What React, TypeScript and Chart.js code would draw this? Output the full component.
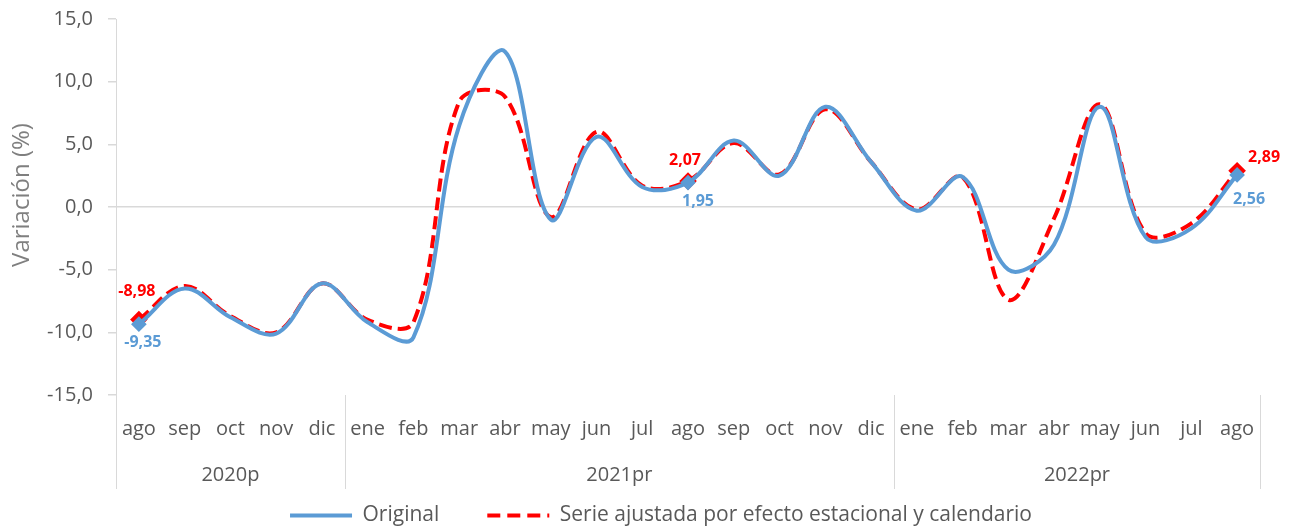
import React, { useEffect, useRef } from 'react';
import { Chart, registerables } from 'chart.js';

Chart.register(...registerables);

const months = [
  'ago', 'sep', 'oct', 'nov', 'dic',
  'ene', 'feb', 'mar', 'abr', 'may', 'jun', 'jul', 'ago', 'sep', 'oct', 'nov', 'dic',
  'ene', 'feb', 'mar', 'abr', 'may', 'jun', 'jul', 'ago',
];
const yearGroups = ['2020p', '2021pr', '2022pr'];
const yearGroupSizes = [5, 12, 8];

const original = [
  -9.35, -6.5, -8.8, -10.1, -6.1,
  -9.2, -10.4, 6.5, 12.4, -1.0, 5.6, 1.6, 1.95, 5.3, 2.5, 8.0, 3.6,
  -0.3, 2.4, -5.0, -3.0, 8.0, -2.4, -1.7, 2.56,
];
const adjusted = [
  -8.98, -6.3, -8.7, -10.0, -6.1,
  -9.0, -9.2, 8.4, 8.8, -0.8, 6.0, 1.7, 2.07, 5.1, 2.6, 7.8, 3.6,
  -0.2, 2.4, -7.4, -0.9, 8.2, -2.1, -1.3, 2.89,
];
const labeledIndices = [0, 12, 24];
const yMin = -15;
const yMax = 15;
const yStep = 5;

const seriesNames = ['Original', 'Serie ajustada por efecto estacional y calendario'];
const yTitle = 'Variación (%)';

const BLUE = '#5B9BD5';
const RED = '#FF0000';
const TEXT = '#595959';
const GRID = '#D9D9D9';
const FONT = "'Open Sans', 'Noto Sans', sans-serif";
const LINE_DASH = [13, 6];
const LEGEND_DASH = [13, 7];

// label offsets (style): [dx, dy] per labelled point, per dataset
const labelOffsets = [
  [[4, 18], [10, 19], [12, 25]],
  [[-2, -28], [-3, -21], [27, -13]],
];

const fmt = (v: number, d: number) => v.toFixed(d).replace('.', ',');

const overlayPlugin = {
  id: 'overlay',
  afterDatasetsDraw(chart: any) {
    const ctx = chart.ctx;
    ctx.save();
    ctx.font = `bold 16px ${FONT}`;
    ctx.textAlign = 'center';
    ctx.textBaseline = 'middle';
    chart.data.datasets.forEach((ds: any, di: number) => {
      const meta = chart.getDatasetMeta(di);
      labeledIndices.forEach((idx, k) => {
        const el = meta.data[idx];
        if (!el) return;
        const [dx, dy] = labelOffsets[di][k];
        ctx.fillStyle = di === 0 ? BLUE : RED;
        ctx.fillText(fmt(ds.data[idx], 2), el.x + dx, el.y + dy);
      });
    });
    ctx.restore();
  },
  afterDraw(chart: any) {
    const ctx = chart.ctx;
    const x = chart.scales.x;
    const area = chart.chartArea;
    const step = x.getPixelForValue(1) - x.getPixelForValue(0);
    ctx.save();
    ctx.strokeStyle = GRID;
    ctx.lineWidth = 1;
    const bounds = [0];
    let acc = 0;
    yearGroupSizes.forEach((n) => { acc += n; bounds.push(acc); });
    bounds.forEach((b) => {
      const px = Math.round(x.getPixelForValue(b) - step / 2) + 0.5;
      ctx.beginPath();
      ctx.moveTo(px, area.bottom);
      ctx.lineTo(px, area.bottom + 94);
      ctx.stroke();
    });
    ctx.fillStyle = TEXT;
    ctx.font = `20px ${FONT}`;
    ctx.textAlign = 'center';
    ctx.textBaseline = 'middle';
    yearGroups.forEach((name, i) => {
      const a = x.getPixelForValue(bounds[i]) - step / 2;
      const b = x.getPixelForValue(bounds[i + 1]) - step / 2;
      ctx.fillText(name, (a + b) / 2, area.bottom + 80);
    });
    // y-axis title
    ctx.save();
    ctx.translate(22, 195);
    ctx.rotate(-Math.PI / 2);
    ctx.fillStyle = '#7F7F7F';
    ctx.font = `24px ${FONT}`;
    ctx.fillText(yTitle, 0, 0);
    ctx.restore();
    ctx.restore();
  },
};

export default function App() {
  const ref = useRef<HTMLCanvasElement | null>(null);
  useEffect(() => {
    if (!ref.current) return;
    const ptR = (r: number) => months.map((_, i) => (labeledIndices.includes(i) ? r : 0));
    const chart = new Chart(ref.current, {
      type: 'line',
      data: {
        labels: months,
        datasets: [
          {
            label: seriesNames[0],
            data: original,
            borderColor: BLUE,
            backgroundColor: BLUE,
            borderWidth: 4,
            tension: 0.36,
            pointStyle: 'rectRot',
            pointRadius: ptR(5),
            pointHoverRadius: ptR(5),
            pointBackgroundColor: BLUE,
            pointBorderColor: BLUE,
          },
          {
            label: seriesNames[1],
            data: adjusted,
            borderColor: RED,
            backgroundColor: RED,
            borderWidth: 4,
            borderDash: LINE_DASH,
            tension: 0.36,
            pointStyle: 'rectRot',
            pointRadius: ptR(6),
            pointHoverRadius: ptR(6),
            pointBackgroundColor: RED,
            pointBorderColor: RED,
          },
        ],
      },
      options: {
        responsive: false,
        animation: false,
        layout: { padding: { left: 0, right: -33, top: 19, bottom: -7 } },
        scales: {
          x: {
            offset: true,
            grid: { display: false, drawTicks: false },
            border: { display: false },
            ticks: {
              color: TEXT,
              font: { family: FONT, size: 20 },
              padding: 22,
              maxRotation: 0,
              autoSkip: false,
            },
            afterFit: (s: any) => { s.height = 62; s.paddingLeft = 0; s.paddingRight = 0; },
          },
          y: {
            min: yMin,
            max: yMax,
            ticks: {
              stepSize: yStep,
              color: TEXT,
              font: { family: FONT, size: 20 },
              padding: 15,
              callback: (v: any) => fmt(Number(v), 1),
            },
            grid: {
              color: (c: any) => (c.tick && c.tick.value === 0 ? GRID : 'rgba(0,0,0,0)'),
              lineWidth: 1.5,
              tickColor: GRID,
              tickLength: 8,
              drawTicks: true,
            },
            border: { display: true, color: GRID, width: 1 },
            afterFit: (s: any) => { s.width = 116; s.paddingTop = 0; s.paddingBottom = 0; },
          },
          yRightSpace: {
            type: 'linear',
            position: 'right',
            min: yMin,
            max: yMax,
            grid: { display: false, drawTicks: false },
            border: { display: false },
            ticks: { display: false },
            afterFit: (s: any) => { s.width = 62; s.paddingTop = 0; s.paddingBottom = 0; },
          },
        },
        plugins: {
          legend: {
            position: 'bottom',
            labels: {
              color: TEXT,
              font: { family: FONT, size: 21 },
              usePointStyle: true,
              pointStyle: 'line',
              pointStyleWidth: 62,
              padding: 48,
              generateLabels: (c: any) => {
                const items = Chart.defaults.plugins.legend.labels.generateLabels(c);
                items.forEach((it: any) => {
                  const ds = c.data.datasets[it.datasetIndex];
                  it.lineDash = ds.borderDash ? LEGEND_DASH : [];
                  it.lineWidth = 4;
                  it.strokeStyle = ds.borderColor;
                  it.lineCap = 'butt';
                });
                return items;
              },
            },
          },
          tooltip: { enabled: false },
        },
      },
      plugins: [overlayPlugin],
    } as any);
    return () => chart.destroy();
  }, []);
  return (
    <div style={{ position: 'fixed', left: 0, top: 0, width: 1289, height: 529, background: '#fff' }}>
      <canvas ref={ref} width={1289} height={529} style={{ display: 'block' }} />
    </div>
  );
}
